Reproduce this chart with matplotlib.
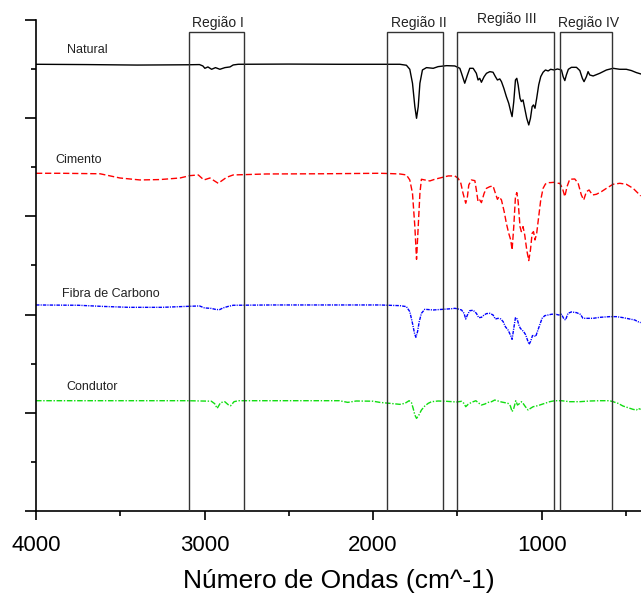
import matplotlib
matplotlib.use("Agg")
import matplotlib.pyplot as plt
from matplotlib.patches import Rectangle
from matplotlib.ticker import MultipleLocator, FixedLocator
import numpy as np

plt.rcParams['font.family'] = ['Liberation Sans', 'DejaVu Sans']

# ---------------- data ----------------
# wavenumber (cm^-1) and signal relative to each trace's baseline (x0.01 a.u.)
natural_wn = [4000, 3700, 3400, 3100, 3030, 3010, 2998, 2980, 2958, 2935, 2909, 2879, 2849, 2830, 2800,
              2500, 2200, 1960, 1841, 1802, 1782, 1766, 1752, 1742, 1732, 1722, 1707, 1683, 1643, 1614,
              1564, 1515, 1485, 1475, 1456, 1440, 1426, 1406, 1387, 1377, 1367, 1357, 1341, 1327, 1307,
              1288, 1274, 1262, 1248, 1238, 1224, 1209, 1195, 1183, 1175, 1165, 1155, 1147, 1139, 1128,
              1120, 1110, 1100, 1088, 1076, 1066, 1056, 1048, 1039, 1029, 1017, 1005, 991, 977, 961,
              946, 926, 906, 882, 872, 862, 853, 841, 823, 793, 773, 758, 748, 734, 724, 714, 694, 655,
              615, 576, 536, 497, 467, 437, 412]
natural_sig = [0, -0.3, -0.8, -0.5, -0.3, -1.7, -4.1, -2.7, -5.1, -3.4, -5.1, -3.4, -2.7, -0.7, 0,
               0.2, 0, 0, 0, -1.0, -5.1, -19.3, -43.1, -55.0, -43.1, -19.3, -5.8, -3.4, -4.1, -2.4,
               -1.4, -1.7, -4.1, -9.2, -19.3, -10.9, -4.1, -4.1, -9.2, -16.0, -14.3, -18.3, -12.6, -9.2, -7.5,
               -8.1, -12.6, -16.0, -14.9, -17.7, -24.4, -32.9, -39.7, -48.2, -53.3, -38.0, -16.0, -14.3, -21.0, -34.6,
               -38.0, -36.3, -44.8, -55.0, -61.8, -55.0, -43.1, -41.4, -44.8, -34.6, -21.0, -12.6, -8.1, -5.8, -6.8,
               -5.1, -5.8, -4.8, -5.8, -12.6, -16.6, -10.9, -5.1, -3.1, -3.1, -6.4, -14.3, -17.7, -12.6, -7.5, -10.9, -11.9, -9.2,
               -5.8, -4.1, -5.1, -5.1, -6.4, -8.5, -9.8]

cimento_wn = [4000, 3850, 3620, 3502, 3383, 3265, 3146, 3087, 3037, 3004, 2968, 2919, 2869, 2830, 2632,
              2300, 1960, 1900, 1841, 1802, 1782, 1766, 1752, 1742, 1732, 1722, 1713, 1693, 1663, 1634,
              1594, 1554, 1515, 1495, 1479, 1466, 1450, 1440, 1432, 1416, 1396, 1387, 1377, 1367, 1357,
              1341, 1327, 1307, 1288, 1274, 1262, 1252, 1238, 1222, 1209, 1195, 1183, 1175, 1165, 1155,
              1147, 1139, 1128, 1120, 1110, 1100, 1088, 1076, 1066, 1056, 1048, 1039, 1029, 1017, 1005,
              991, 977, 961, 946, 926, 906, 892, 876, 862, 849, 833, 803, 783, 764, 750, 734, 718, 698,
              675, 645, 615, 576, 536, 497, 457, 427, 412]
cimento_sig = [0, 0, -0.5, -4.8, -6.8, -6.4, -4.8, -2.4, -1.7, -6.8, -4.8, -10.2, -4.1, -1.7, -0.7,
               -0.5, 0, -0.3, -0.7, -1.7, -6.8, -20.4, -54.3, -87.6, -54.3, -20.4, -6.1, -6.8, -7.8, -6.1,
               -4.4, -2.7, -2.7, -5.1, -10.2, -20.4, -30.5, -23.8, -11.9, -6.8, -7.5, -17.0, -28.9, -27.2, -29.9,
               -20.4, -15.3, -13.6, -12.9, -20.4, -26.5, -23.8, -27.2, -39.0, -50.9, -61.1, -67.9, -78.1, -54.3, -23.8,
               -19.7, -28.9, -54.3, -59.4, -54.3, -62.8, -78.1, -88.9, -78.1, -61.1, -59.4, -67.9, -61.1, -44.1, -27.2,
               -15.3, -10.9, -9.5, -9.5, -9.2, -10.2, -10.2, -15.3, -23.8, -13.6, -6.1, -5.8, -10.2, -22.1, -27.2, -18.7, -17.0, -22.1,
               -21.4, -18.7, -15.3, -11.2, -10.2, -11.2, -15.3, -20.4, -23.1]

fibra_wn = [4000, 3750, 3600, 3450, 3250, 3100, 3030, 3000, 2960, 2930, 2910, 2890, 2860, 2830, 2600,
            2300, 1960, 1841, 1802, 1782, 1766, 1754, 1746, 1736, 1726, 1713, 1693, 1643, 1584, 1525,
            1515, 1495, 1475, 1460, 1450, 1440, 1426, 1406, 1387, 1373, 1357, 1341, 1327, 1307, 1288,
            1274, 1258, 1242, 1228, 1215, 1199, 1185, 1175, 1165, 1155, 1145, 1135, 1126, 1116, 1106,
            1094, 1084, 1074, 1064, 1054, 1044, 1035, 1025, 1011, 997, 981, 961, 942, 922, 898, 882,
            867, 858, 843, 823, 793, 770, 754, 734, 694, 655, 596, 556, 517, 477, 447, 428, 412]
fibra_sig = [0, -0.3, -1.5, -2.4, -2.4, -1.4, -1.0, -3.0, -3.5, -4.7, -4.7, -3.0, -1.5, -0.3, 0,
             0, 0, -0.7, -1.7, -6.8, -18.7, -28.9, -32.9, -27.2, -17.0, -8.5, -4.4, -5.1, -4.4, -3.7,
             -3.4, -4.1, -5.1, -8.5, -14.3, -10.2, -5.8, -5.4, -8.5, -12.9, -12.6, -10.2, -8.8, -8.5, -10.2,
             -14.3, -13.6, -14.3, -17.0, -22.1, -25.5, -30.5, -35.0, -23.8, -12.9, -14.3, -20.4, -23.8, -25.5, -27.2,
             -30.5, -35.6, -40.1, -36.7, -31.2, -31.2, -32.2, -27.2, -20.4, -13.6, -10.9, -10.2, -9.5, -9.2, -10.2, -9.5,
             -14.3, -15.3, -8.5, -7.1, -7.8, -9.5, -13.6, -13.6, -13.6, -12.6, -11.9, -11.9, -12.9, -14.3, -15.3, -17.0, -18.0]

condutor_wn = [4000, 3500, 3100, 2960, 2940, 2925, 2905, 2880, 2860, 2845, 2825, 2800, 2200, 2150, 2100,
               2000, 1960, 1900, 1841, 1811, 1786, 1772, 1762, 1752, 1742, 1728, 1713, 1693, 1673, 1653,
               1614, 1564, 1505, 1475, 1461, 1450, 1436, 1416, 1390, 1376, 1357, 1337, 1317, 1297, 1278,
               1258, 1238, 1218, 1199, 1185, 1175, 1165, 1153, 1143, 1129, 1119, 1110, 1096, 1080, 1066,
               1050, 1031, 1011, 981, 951, 922, 882, 833, 773, 714, 655, 596, 576, 546, 517, 487, 457,
               437, 428, 412]
condutor_sig = [0, 0, 0, -0.5, -3.0, -7.8, -2.0, -1.0, -4.0, -5.1, -1.0, 0, 0, -1.7, -0.3,
                -0.5, -1.7, -2.7, -3.7, -2.7, 0, -2.0, -7.8, -14.6, -18.0, -14.6, -9.5, -5.4, -2.7, -1.0,
                -0.3, -0.6, -1.3, -0.6, -2.7, -6.1, -3.7, -1.7, 0, -2.0, -4.4, -3.4, -1.7, -1.0, 0.7,
                -0.3, -1.3, -2.0, -2.7, -5.4, -11.2, -7.8, 0, -4.4, -2.7, -1.0, -2.7, -6.1, -9.5, -7.8,
                -6.1, -5.4, -4.4, -2.7, -1.0, 0, 0, -1.0, -1.0, -0.3, 0, 0, -1.0, -2.7, -5.4, -7.1, -8.8,
                -9.5, -7.8, -8.8]

sample_names = ["Natural", "Cimento", "Fibra de Carbono", "Condutor"]
sample_offsets = [4.549, 3.439, 2.098, 1.123]

region_names = ["Região I", "Região II", "Região III", "Região IV"]
region_hi = [3090, 1915, 1500, 890]
region_lo = [2765, 1585, 925, 585]
region_label_x = [2921, 1731, 1207, 720]
region_label_y = [4.97, 4.97, 5.01, 4.97]

x_major = [4000, 3000, 2000, 1000]
x_minor = [3500, 2500, 1500, 500]

# ---------------- figure ----------------
fig = plt.figure(figsize=(6.41, 5.95), dpi=100)
ax = fig.add_axes([0.0562, 0.1412, 0.9438, 0.8252])

series = [(natural_wn, natural_sig), (cimento_wn, cimento_sig),
          (fibra_wn, fibra_sig), (condutor_wn, condutor_sig)]
colors = ['#000000', '#ff0000', '#0000ff', '#11dd11']
styles = ['-', (0, (4.5, 2)), (0, (2.5, 0.8, 0.8, 0.8)), (0, (4, 1.2, 1, 1.2))]
for (wn, sig), off, c, ls in zip(series, sample_offsets, colors, styles):
    ax.plot(wn, off + np.array(sig) / 100.0, color=c, lw=1.0, linestyle=ls)

label_x = [3816, 3887, 3844, 3818]
label_y = [4.695, 3.574, 2.21, 1.26]
for name, lx, ly in zip(sample_names, label_x, label_y):
    ax.text(lx, ly, name, fontsize=9, color='#222222', ha='left', va='center')

for lo, hi, name, tx, ty in zip(region_lo, region_hi, region_names, region_label_x, region_label_y):
    ax.add_patch(Rectangle((lo, 0), hi - lo, 4.878, fill=False, edgecolor='#333333', lw=1.0, zorder=3))
    ax.text(tx, ty, name, fontsize=10, color='#222222', ha='center', va='center', clip_on=False)

ax.set_xlim(4000, 410)
ax.set_ylim(0, 5)

ax.spines['top'].set_visible(False)
ax.spines['right'].set_visible(False)
for s in ['left', 'bottom']:
    ax.spines[s].set_linewidth(1.2)

ax.xaxis.set_major_locator(FixedLocator(x_major))
ax.xaxis.set_minor_locator(FixedLocator(x_minor))
ax.set_xticklabels([str(v) for v in x_major])
ax.yaxis.set_major_locator(MultipleLocator(1))
ax.yaxis.set_minor_locator(MultipleLocator(0.5))
ax.set_yticklabels([])
ax.tick_params(axis='x', which='major', length=6.5, width=1.2, labelsize=16, pad=10.5, direction='out')
ax.tick_params(axis='x', which='minor', length=3.6, width=1.2, direction='out')
ax.tick_params(axis='y', which='major', length=8, width=1.2, direction='out')
ax.tick_params(axis='y', which='minor', length=3.6, width=1.2, direction='out')

ax.set_xlabel("Número de Ondas (cm^-1)", fontsize=19, labelpad=9.5)

fig.savefig("out.png", dpi=100)
